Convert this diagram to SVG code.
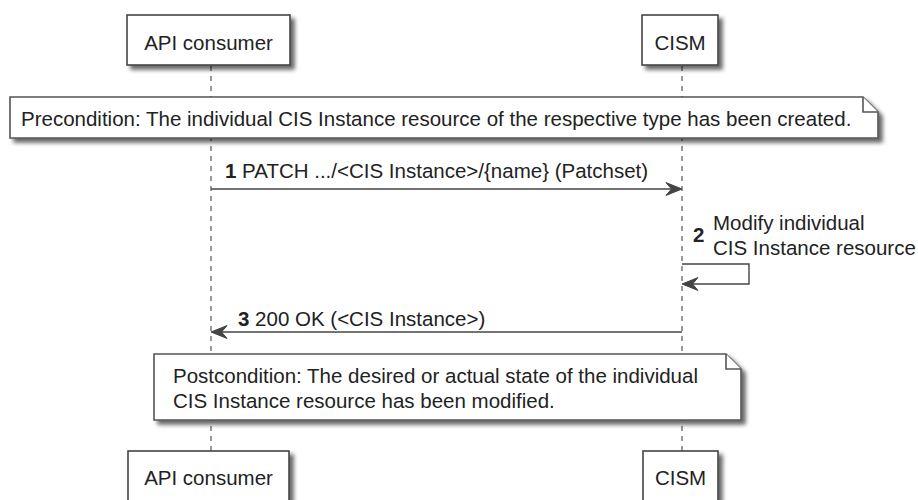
<svg xmlns="http://www.w3.org/2000/svg" width="918" height="500" viewBox="0 0 918 500">
<style>
text{font-family:"Liberation Sans",Arial,sans-serif;font-size:20.5px;fill:#222}
.b{font-weight:bold}
.box{fill:#fff;stroke:#444;stroke-width:1.6}
.note{fill:#fff;stroke:#555;stroke-width:1.6}
.life{stroke:#555;stroke-width:1.2;stroke-dasharray:5,5;fill:none}
.msg{stroke:#444;stroke-width:1.4;fill:none}
.head{fill:#444;stroke:#444;stroke-width:1}
</style>
<defs>
<filter id="sh" x="-10%" y="-20%" width="130%" height="160%">
<feGaussianBlur in="SourceAlpha" stdDeviation="2"/>
<feOffset dx="4" dy="4" result="o"/>
<feComponentTransfer><feFuncA type="linear" slope="0.6"/></feComponentTransfer>
<feMerge><feMergeNode/><feMergeNode in="SourceGraphic"/></feMerge>
</filter>
</defs>
<g id="lifelines">
<line class="life" x1="211" y1="66" x2="211" y2="451"/>
<line class="life" x1="682" y1="66" x2="682" y2="451"/>
</g>
<g id="p-api-top">
<rect class="box" x="127" y="15" width="163" height="50" filter="url(#sh)"/>
<text x="208.5" y="50" text-anchor="middle">API consumer</text>
</g>
<g id="p-cism-top">
<rect class="box" x="642" y="15" width="76" height="50" filter="url(#sh)"/>
<text x="680" y="50" text-anchor="middle">CISM</text>
</g>
<g id="note-pre">
<path class="note" d="M10,97 H863 L878,112 V138 H10 Z" filter="url(#sh)"/>
<path class="note" d="M863,97 V112 H878"/>
<text x="21" y="126">Precondition: The individual CIS Instance resource of the respective type has been created.</text>
</g>
<g id="connectors">
<line class="msg" x1="211" y1="189" x2="680" y2="189"/>
<polygon class="head" points="682,189 666,182.6 671.5,189 666,195.4"/>
<text x="225" y="178"><tspan class="b">1</tspan> PATCH .../&lt;CIS Instance&gt;/{name} (Patchset)</text>
<polyline class="msg" points="682,264 749,264 749,284 684,284"/>
<polygon class="head" points="682,284 698,277.6 692.5,284 698,290.4"/>
<text x="693" y="242" class="b">2</text>
<text x="713" y="230">Modify individual</text>
<text x="713" y="255">CIS Instance resource</text>
<line class="msg" x1="213" y1="332" x2="682" y2="332"/>
<polygon class="head" points="211,332 227,325.6 221.5,332 227,338.4"/>
<text x="238" y="326"><tspan class="b">3</tspan> 200 OK (&lt;CIS Instance&gt;)</text>
</g>
<g id="note-post">
<path class="note" d="M154,354 H726 L741,369 V420 H154 Z" filter="url(#sh)"/>
<path class="note" d="M726,354 V369 H741"/>
<text x="173" y="383">Postcondition: The desired or actual state of the individual</text>
<text x="173" y="408">CIS Instance resource has been modified.</text>
</g>
<g id="p-api-bottom">
<rect class="box" x="128" y="451" width="161" height="50" filter="url(#sh)"/>
<text x="208.5" y="485" text-anchor="middle">API consumer</text>
</g>
<g id="p-cism-bottom">
<rect class="box" x="643" y="451" width="75" height="50" filter="url(#sh)"/>
<text x="680.5" y="485" text-anchor="middle">CISM</text>
</g>
</svg>
